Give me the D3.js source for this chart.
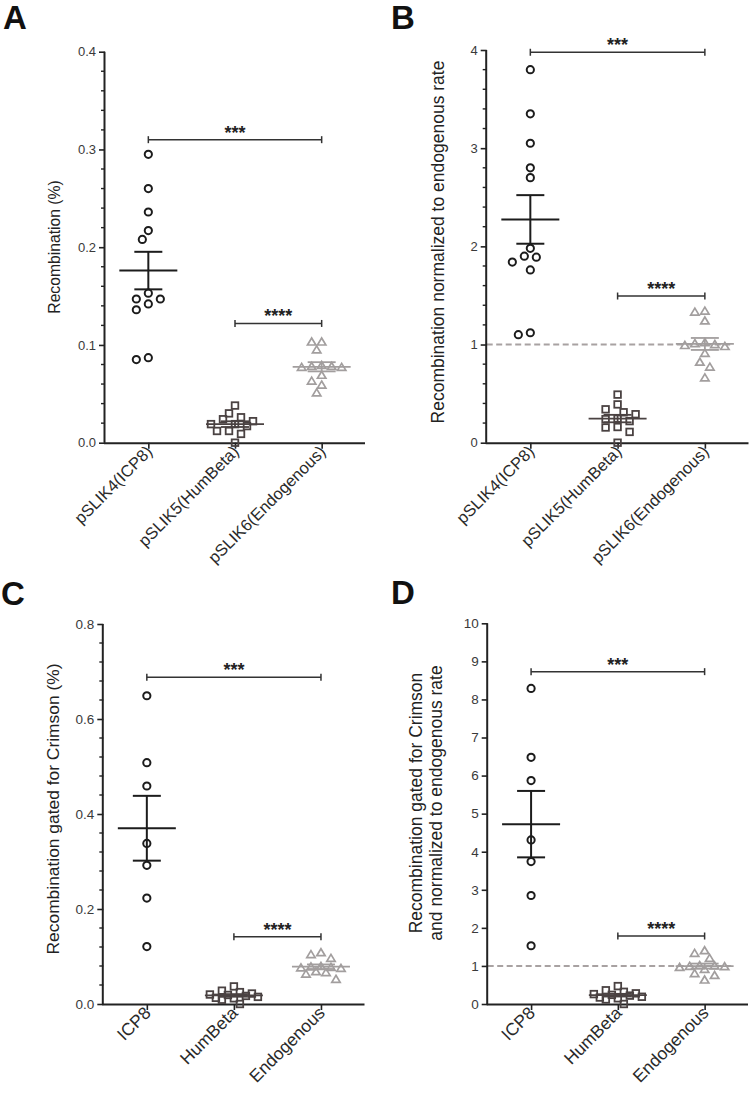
<!DOCTYPE html>
<html><head><meta charset="utf-8">
<script src="https://cdn.jsdelivr.net/npm/d3@7"></script>
<style>body{margin:0;background:#fff}svg{display:block}</style>
</head><body>
<svg id="chart" width="750" height="1097"></svg>
<script>
// ---------- data ----------
const catsAB = ["pSLIK4(ICP8)", "pSLIK5(HumBeta)", "pSLIK6(Endogenous)"];
const catsCD = ["ICP8", "HumBeta", "Endogenous"];

const aICP8 = [0.295, 0.260, 0.236, 0.217, 0.208, 0.153, 0.147, 0.142, 0.147, 0.136, 0.085, 0.087];
const aHumBeta = [0.038, 0.030, 0.026, 0.024, 0.022, 0.019, 0.019, 0.017, 0.012, 0.012, 0.009, 0.000];
const aEndo = [0.103, 0.103, 0.095, 0.079, 0.078, 0.078, 0.077, 0.077, 0.069, 0.063, 0.059, 0.051];

const bICP8 = [3.80, 3.35, 3.05, 2.80, 2.70, 1.98, 1.89, 1.90, 1.84, 1.76, 1.10, 1.12];
const bHumBeta = [0.49, 0.39, 0.34, 0.31, 0.29, 0.24, 0.245, 0.22, 0.16, 0.155, 0.11, 0.0];
const bEndo = [1.34, 1.33, 1.24, 1.02, 1.01, 1.00, 0.99, 0.98, 0.91, 0.82, 0.77, 0.66];

const cICP8 = [0.649, 0.508, 0.459, 0.338, 0.292, 0.223, 0.121];
const cHumBeta = [0.037, 0.028, 0.025, 0.022, 0.020, 0.019, 0.017, 0.015, 0.013, 0.012, 0.009, 0.0];
const cEndo = [0.108, 0.104, 0.096, 0.079, 0.078, 0.077, 0.076, 0.075, 0.068, 0.066, 0.063, 0.052];

const dICP8 = [8.29, 6.48, 5.87, 4.31, 3.74, 2.85, 1.53];
const dHumBeta = [0.47, 0.36, 0.32, 0.28, 0.26, 0.24, 0.22, 0.19, 0.17, 0.15, 0.12, 0.0];
const dEndo = [1.40, 1.33, 1.20, 1.01, 1.00, 0.99, 0.98, 0.96, 0.91, 0.80, 0.75, 0.63];

const aTicks = [0, 0.1, 0.2, 0.3, 0.4];
const bTicks = [0, 1, 2, 3, 4];
const cTicks = [0, 0.2, 0.4, 0.6, 0.8];
const dTicks = [0, 1, 2, 3, 4, 5, 6, 7, 8, 9, 10];

const aSig = [[0, 2, 0.310, "***"], [1, 2, 0.122, "****"]];
const bSig = [[0, 2, 3.977, "***"], [1, 2, 1.494, "****"]];
const cSig = [[0, 2, 0.688, "***"], [1, 2, 0.1417, "****"]];
const dSig = [[0, 2, 8.73, "***"], [1, 2, 1.786, "****"]];

// ---------- drawing ----------
const svg = d3.select("#chart");
const FONT = "'Liberation Sans', Arial, sans-serif";
const COL = ["#1c1c1c", "#4a4242", "#a29e9e"];
const SHAPE = ["circle", "square", "triangle"];

function swarm(vals, y, cx, d, step, maxOff) {
  const order = vals.map((v, i) => i).sort((a, b) => vals[b] - vals[a]);
  const placed = [], out = new Array(vals.length);
  const cands = [0];
  for (let k = 1; k * step <= maxOff + 1e-6; k++) cands.push(-k * step, k * step);
  for (const i of order) {
    const py = y(vals[i]);
    let best = 0, bestScore = -1, chosen = null;
    for (const off of cands) {
      const score = placed.length ? d3.min(placed, p => Math.hypot(p.x - off, p.y - py)) : Infinity;
      if (score >= d) { chosen = off; break; }
      if (score > bestScore) { bestScore = score; best = off; }
    }
    const ox = chosen === null ? best : chosen;
    placed.push({ x: ox, y: py });
    out[i] = { x: cx + ox, y: py };
  }
  return out;
}

function panel(cfg) {
  const g = svg.append("g");
  const y = d3.scaleLinear().domain(cfg.domain).range([cfg.y0, cfg.y1]);
  const x = d3.scalePoint().domain(cfg.cats).range([cfg.x0, cfg.x1]).padding(0.5);

  g.append("text").attr("x", cfg.lx).attr("y", cfg.ly).text(cfg.letter)
    .attr("font-family", FONT).attr("font-weight", "bold").attr("font-size", 33).attr("fill", "#111");

  if (cfg.refLine) {
    g.append("line").attr("x1", cfg.x0).attr("x2", x(cfg.cats[2]) + 28)
      .attr("y1", y(1)).attr("y2", y(1))
      .attr("stroke", "#a8a2a2").attr("stroke-width", 2).attr("stroke-dasharray", "6,3.5");
  }

  const yAxis = d3.axisLeft(y).tickValues(cfg.ticks).tickSize(6).tickPadding(3).tickFormat(cfg.fmt);
  const ya = g.append("g").attr("transform", `translate(${cfg.x0},0)`).call(yAxis);
  ya.select(".domain").attr("stroke", "#222").attr("stroke-width", 2).attr("d", `M-0.5,${cfg.y0}V${cfg.y1}`);
  ya.selectAll(".tick line").attr("stroke", "#222").attr("stroke-width", 1.6);
  ya.selectAll(".tick text").attr("font-family", FONT).attr("font-size", cfg.tickFs).attr("fill", "#3a3a3a");
  if (cfg.minor) {
    const minors = d3.range(cfg.domain[0], cfg.domain[1] + 1e-9, cfg.minor)
      .filter(v => !cfg.ticks.some(t => Math.abs(t - v) < 1e-9));
    g.append("g").selectAll("line").data(minors).join("line")
      .attr("x1", cfg.x0 - 4).attr("x2", cfg.x0).attr("y1", d => y(d)).attr("y2", d => y(d))
      .attr("stroke", "#222").attr("stroke-width", 1.4);
  }

  const xAxis = d3.axisBottom(x).tickSize(6).tickFormat("");
  const xa = g.append("g").attr("transform", `translate(0,${cfg.y0})`).call(xAxis);
  xa.select(".domain").attr("stroke", "#222").attr("stroke-width", 2).attr("d", `M${cfg.x0 - 1},0.5H${cfg.x1}`);
  xa.selectAll(".tick line").attr("stroke", "#222").attr("stroke-width", 1.6);
  g.append("g").selectAll("text").data(cfg.cats).join("text")
    .attr("transform", d => `translate(${x(d) + 5},${cfg.y0 + 10}) rotate(-45)`)
    .attr("text-anchor", "end").attr("font-family", FONT).attr("font-size", cfg.xFs).attr("fill", "#2a2a2a")
    .text(d => d);

  const tt = g.append("text").attr("transform", `translate(${cfg.tx},${cfg.ty}) rotate(-90)`)
    .attr("text-anchor", "middle").attr("font-family", FONT).attr("font-size", cfg.titleFs).attr("fill", "#222");
  cfg.title.forEach((line, i) => tt.append("tspan").attr("x", 0).attr("dy", i === 0 ? 0 : "1.15em").text(line));

  cfg.series.forEach((vals, si) => {
    const cx = x(cfg.cats[si]);
    const shape = SHAPE[si];
    const pts = shape === "circle" ? swarm(vals, y, cx, 9, 6, 40)
      : shape === "square" ? swarm(vals, y, cx, 8, 6, 24)
      : swarm(vals, y, cx, 9, 5, 25);
    const pg = g.append("g").attr("fill", "none").attr("stroke", COL[si]);
    if (shape === "circle") {
      pg.selectAll("circle").data(pts).join("circle").attr("cx", p => p.x).attr("cy", p => p.y)
        .attr("r", 3.6).attr("stroke-width", 2);
    } else if (shape === "square") {
      pg.selectAll("rect").data(pts).join("rect").attr("x", p => p.x - 3.3).attr("y", p => p.y - 3.3)
        .attr("width", 6.6).attr("height", 6.6).attr("stroke-width", 1.8);
    } else {
      pg.selectAll("path").data(pts).join("path")
        .attr("d", p => `M${p.x},${p.y - 4}L${p.x + 4.2},${p.y + 3}L${p.x - 4.2},${p.y + 3}Z`)
        .attr("stroke-width", 1.7);
    }
    const m = d3.mean(vals), sem = d3.deviation(vals) / Math.sqrt(vals.length);
    const mg = g.append("g").attr("stroke", COL[si]).attr("stroke-width", si === 0 ? 2 : 1.8);
    mg.append("line").attr("x1", cx - 29).attr("x2", cx + 29).attr("y1", y(m)).attr("y2", y(m));
    mg.append("line").attr("x1", cx - 14).attr("x2", cx + 14).attr("y1", y(m + sem)).attr("y2", y(m + sem));
    mg.append("line").attr("x1", cx - 14).attr("x2", cx + 14).attr("y1", y(m - sem)).attr("y2", y(m - sem));
    mg.append("line").attr("x1", cx).attr("x2", cx).attr("y1", y(m + sem)).attr("y2", y(m - sem));
  });

  cfg.sig.forEach(([a, b, v, lab]) => {
    const x1 = x(cfg.cats[a]), x2 = x(cfg.cats[b]), yy = y(v);
    const sg = g.append("g").attr("stroke", "#333").attr("stroke-width", 1.5);
    sg.append("line").attr("x1", x1).attr("x2", x2).attr("y1", yy).attr("y2", yy);
    sg.append("line").attr("x1", x1).attr("x2", x1).attr("y1", yy - 3.5).attr("y2", yy + 3.5);
    sg.append("line").attr("x1", x2).attr("x2", x2).attr("y1", yy - 3.5).attr("y2", yy + 3.5);
    g.append("text").attr("x", (x1 + x2) / 2).attr("y", yy - 1).attr("text-anchor", "middle")
      .attr("font-family", FONT).attr("font-weight", "bold").attr("font-size", 18).attr("fill", "#222").text(lab);
  });
}

const f1 = d3.format(".1f"), f0 = d3.format("d");

panel({ letter: "A", lx: 3, ly: 29, cats: catsAB, domain: [0, 0.4], y0: 442.7, y1: 51.7, x0: 105, x1: 365,
  ticks: aTicks, minor: 0.02, fmt: f1, tickFs: 13, xFs: 16.5, title: ["Recombination (%)"], titleFs: 15.7, tx: 60, ty: 247,
  series: [aICP8, aHumBeta, aEndo], sig: aSig });
panel({ letter: "B", lx: 391, ly: 29, cats: catsAB, domain: [0, 4], y0: 442.7, y1: 50, x0: 486.7, x1: 748.5,
  ticks: bTicks, minor: 0.2, fmt: f0, tickFs: 13, xFs: 16.5, title: ["Recombination normalized to endogenous rate"], titleFs: 17.5, tx: 444, ty: 242,
  refLine: true, series: [bICP8, bHumBeta, bEndo], sig: bSig });
panel({ letter: "C", lx: 1, ly: 605, cats: catsCD, domain: [0, 0.8], y0: 1004, y1: 624, x0: 103.3, x1: 364.5,
  ticks: cTicks, minor: 0.04, fmt: f1, tickFs: 13.5, xFs: 17.5, title: ["Recombination gated for Crimson (%)"], titleFs: 17.4, tx: 59, ty: 809,
  series: [cICP8, cHumBeta, cEndo], sig: cSig });
panel({ letter: "D", lx: 391, ly: 604, cats: catsCD, domain: [0, 10], y0: 1004, y1: 623.3, x0: 487.7, x1: 748,
  ticks: dTicks, minor: null, fmt: f0, tickFs: 13.5, xFs: 17.5, title: ["Recombination gated for Crimson", "and normalized to endogenous rate"], titleFs: 17.5, tx: 422, ty: 803,
  refLine: true, series: [dICP8, dHumBeta, dEndo], sig: dSig });
</script>
</body></html>
